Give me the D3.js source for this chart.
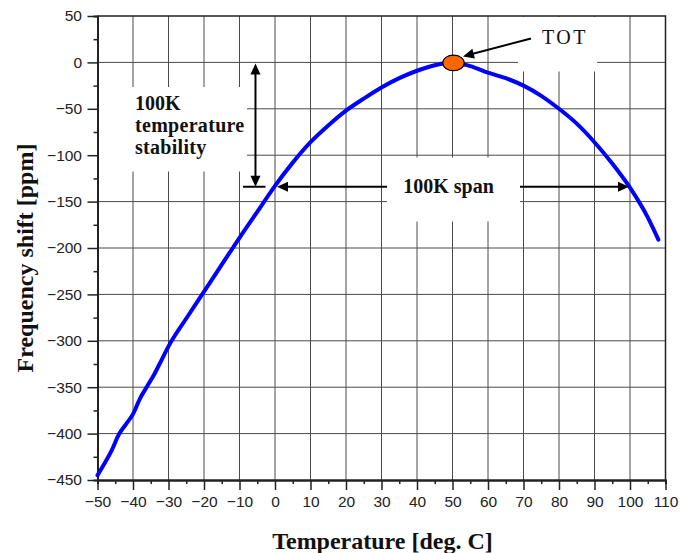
<!DOCTYPE html>
<html>
<head>
<meta charset="utf-8">
<script src="https://cdn.jsdelivr.net/npm/d3@7"></script>
<style>
  body { margin: 0; background: #fff; }
  svg { display: block; }
  .tick text { font-family: "Liberation Sans", Arial, sans-serif; font-size: 15.5px; fill: #222; }
</style>
</head>
<body>
<script>
// curve
var temperatures = [-50,-48,-46,-44,-42,-40,-38,-36,-34,-32,-30,-25,-20,-15,-10,-5,0,5,10,15,20,25,30,35,40,45,50,55,60,65,70,75,80,85,90,95,100,105,108];
var shifts = [-445,-432,-418,-401,-390,-379,-362,-349,-336,-321,-306,-276,-247,-218,-189,-161,-133,-108,-86,-68,-52,-39,-27,-17,-9,-3,0,-4,-11,-17,-25,-36,-50,-66,-86,-109,-135,-167,-191];

var xTicks = d3.range(-50, 111, 10);
var xMinorTicks = d3.range(-45, 110, 10);
var yTicks = d3.range(50, -451, -50);
var yMinorTicks = d3.range(25, -450, -50);

var totPoint = [50, 0];
var stabilityLevels = [0, -134];
var spanTemps = [0, 100];

var width = 680, height = 553;
var margin = {left: 97.5, right: 14.5, top: 16, bottom: 73};

var svg = d3.select("body").append("svg")
  .attr("width", width).attr("height", height);

var x = d3.scaleLinear().domain([-50, 110]).range([margin.left, width - margin.right]);
var y = d3.scaleLinear().domain([50, -450]).range([margin.top, height - margin.bottom]);

var gridColor = "#4a4a4a";

// grid
svg.append("g").selectAll("line").data(xTicks.slice(1, -1)).enter().append("line")
  .attr("x1", function(d) { return x(d); }).attr("x2", function(d) { return x(d); })
  .attr("y1", y(50)).attr("y2", y(-450))
  .attr("stroke", gridColor).attr("stroke-width", 1);

svg.append("g").selectAll("line").data(yTicks.slice(1, -1)).enter().append("line")
  .attr("y1", function(d) { return y(d); }).attr("y2", function(d) { return y(d); })
  .attr("x1", x(-50)).attr("x2", x(110))
  .attr("stroke", gridColor).attr("stroke-width", 1);

// white label boxes covering the grid
var boxes = [
  {x: 98.5, y: 87, w: 148.5, h: 84.5},
  {x: 387, y: 157.5, w: 133, h: 64},
  {x: 518, y: 17, w: 79, h: 54.5}
];
svg.append("g").selectAll("rect").data(boxes).enter().append("rect")
  .attr("x", function(d) { return d.x; }).attr("y", function(d) { return d.y; })
  .attr("width", function(d) { return d.w; }).attr("height", function(d) { return d.h; })
  .attr("fill", "#fff");

// frame top / right
svg.append("path")
  .attr("d", "M" + x(-50) + "," + y(50) + "H" + x(110) + "V" + y(-450))
  .attr("fill", "none").attr("stroke", "#222").attr("stroke-width", 1.5);

// axes
function styleAxis(g) {
  g.select(".domain").attr("stroke", "#222").attr("stroke-width", 2);
  g.selectAll(".tick line").attr("stroke", "#222").attr("stroke-width", 1.5);
}

svg.append("g").attr("transform", "translate(0," + y(-450) + ")")
  .call(d3.axisBottom(x).tickValues(xMinorTicks).tickSize(4).tickFormat(""))
  .call(styleAxis);
svg.append("g").attr("transform", "translate(" + x(-50) + ",0)")
  .call(d3.axisLeft(y).tickValues(yMinorTicks).tickSize(4).tickFormat(""))
  .call(styleAxis);

svg.append("g").attr("transform", "translate(0," + y(-450) + ")")
  .call(d3.axisBottom(x).tickValues(xTicks).tickSize(10).tickSizeOuter(0).tickPadding(6).tickFormat(d3.format("d")))
  .call(styleAxis);
svg.append("g").attr("transform", "translate(" + x(-50) + ",0)")
  .call(d3.axisLeft(y).tickValues(yTicks).tickSize(10).tickSizeOuter(0).tickPadding(5.5).tickFormat(d3.format("d")))
  .call(styleAxis);

// curve
var line = d3.line()
  .x(function(d) { return x(d[0]); })
  .y(function(d) { return y(d[1]); })
  .curve(d3.curveMonotoneX);

svg.append("path")
  .datum(d3.zip(temperatures, shifts))
  .attr("d", line)
  .attr("fill", "none")
  .attr("stroke", "#0000ff")
  .attr("stroke-width", 4)
  .attr("stroke-linecap", "round")
  .attr("stroke-linejoin", "round");

// arrows
function arrowHead(tx, ty, fx, fy) {
  var a = Math.atan2(ty - fy, tx - fx);
  var len = 11, half = 5;
  var bx = tx - len * Math.cos(a), by = ty - len * Math.sin(a);
  var px = -Math.sin(a) * half, py = Math.cos(a) * half;
  svg.append("path")
    .attr("d", "M" + tx + "," + ty + "L" + (bx + px) + "," + (by + py) + "L" + (bx - px) + "," + (by - py) + "Z")
    .attr("fill", "#000");
}
function arrowLine(x1, y1, x2, y2) {
  svg.append("line")
    .attr("x1", x1).attr("y1", y1).attr("x2", x2).attr("y2", y2)
    .attr("stroke", "#000").attr("stroke-width", 2);
}

// vertical 100K stability arrow
var ax = x(-5.5);
var yTop = y(stabilityLevels[0]) + 1, yBot = y(stabilityLevels[1]);
arrowLine(ax, yTop + 8, ax, yBot - 8);
arrowHead(ax, yTop, ax, yBot);
arrowHead(ax, yBot, ax, yTop);
arrowLine(ax - 12.5, yBot, ax + 10, yBot);

// horizontal 100K span arrow
var spanY = y(stabilityLevels[1]);
var leftTip = x(spanTemps[0]) + 2, rightTip = x(spanTemps[1]) - 1;
arrowLine(leftTip + 8, spanY, 387, spanY);
arrowLine(520, spanY, rightTip - 8, spanY);
arrowHead(leftTip, spanY, 387, spanY);
arrowHead(rightTip, spanY, 520, spanY);

// TOT arrow
arrowLine(531, 38.5, 470, 54.5);
arrowHead(463, 56.5, 531, 38.5);

// TOT marker
svg.append("ellipse")
  .attr("cx", x(totPoint[0]) + 1).attr("cy", y(totPoint[1]) + 0.5)
  .attr("rx", 10.7).attr("ry", 7.8)
  .attr("fill", "#ff6600").attr("stroke", "#000").attr("stroke-width", 1.2);

// annotation text
var serif = "'Liberation Serif', 'Times New Roman', serif";
var stab = svg.append("text")
  .attr("font-family", serif).attr("font-weight", "bold").attr("font-size", 20)
  .attr("fill", "#111");
stab.append("tspan").attr("x", 135).attr("y", 110).text("100K");
stab.append("tspan").attr("x", 135).attr("y", 132).attr("letter-spacing", 0.3).text("temperature");
stab.append("tspan").attr("x", 135).attr("y", 153.5).attr("letter-spacing", 0.3).text("stability");

svg.append("text")
  .attr("x", 448.5).attr("y", 193).attr("text-anchor", "middle")
  .attr("font-family", serif).attr("font-weight", "bold").attr("font-size", 20)
  .attr("fill", "#111")
  .text("100K span");

svg.append("text")
  .attr("x", 542).attr("y", 43.5)
  .attr("font-family", serif).attr("font-size", 20).attr("letter-spacing", 2.5)
  .attr("fill", "#111")
  .text("TOT");

// axis titles
svg.append("text")
  .attr("x", 382.5).attr("y", 549).attr("text-anchor", "middle")
  .attr("font-family", serif).attr("font-weight", "bold").attr("font-size", 24)
  .attr("fill", "#111")
  .text("Temperature [deg. C]");

svg.append("text")
  .attr("transform", "translate(33,258) rotate(-90)")
  .attr("text-anchor", "middle")
  .attr("font-family", serif).attr("font-weight", "bold").attr("font-size", 24)
  .attr("fill", "#111")
  .text("Frequency shift [ppm]");
</script>
</body>
</html>
